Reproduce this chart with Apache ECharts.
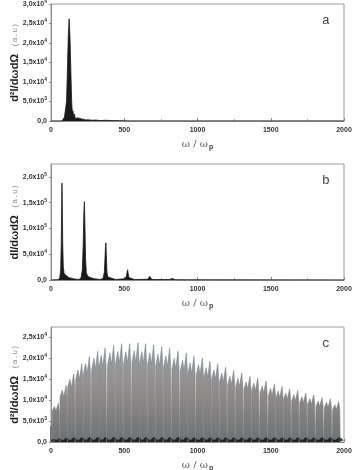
<!DOCTYPE html>
<html>
<head>
<meta charset="utf-8">
<script src="https://cdn.jsdelivr.net/npm/echarts@6/dist/echarts.min.js"></script>
<style>
  html, body { margin: 0; padding: 0; background: #fff; }
  #chart { width: 356px; height: 470px; }
</style>
</head>
<body>
<div id="chart"></div>
<script>
// panel a: single dominant harmonic
const aX = [0, 75, 85, 92, 97, 101, 106, 112, 118, 124, 130, 136, 141, 146, 150, 155, 160, 165, 171, 177, 185, 193, 202, 212, 225, 240, 258, 280, 305, 340, 368, 378, 390, 420, 470, 550, 2000]
const aY = [0, 0, 400, 1000, 500, 1200, 5000, 13000, 22000, 26200, 21000, 12000, 5000, 2000, 2600, 1000, 1800, 700, 1200, 500, 800, 400, 600, 300, 400, 250, 300, 200, 250, 100, 200, 500, 150, 100, 80, 0, 0]

// panel b: harmonic series
const bX = [0, 50, 60, 66, 70, 73, 75, 77, 80, 84, 90, 100, 120, 150, 190, 205, 214, 220, 224, 228, 232, 236, 241, 250, 265, 295, 335, 355, 364, 369, 372, 375, 378, 382, 388, 400, 440, 505, 515, 520, 523, 526, 531, 540, 570, 660, 670, 674, 676, 679, 685, 700, 810, 818, 822, 824, 827, 833, 850, 2000]
const bY = [0, 500, 5000, 20000, 70000, 150000, 188000, 150000, 70000, 25000, 12000, 9000, 5000, 2500, 1000, 4000, 20000, 70000, 130000, 152000, 100000, 40000, 14000, 8000, 5000, 2500, 1000, 3000, 15000, 45000, 65000, 72000, 45000, 15000, 6000, 3500, 1000, 2500, 8000, 16000, 20000, 14000, 5000, 2500, 800, 1500, 4000, 7000, 8000, 5500, 2000, 800, 800, 2500, 4500, 5000, 3000, 1000, 300, 0]

// panel c: dense comb, each tooth = main spike, side spike, dip between
const cPeakX = [14, 52, 105, 157, 212, 264, 321, 371, 430, 484, 539, 596, 648, 703, 758, 812, 869, 926, 978, 1035, 1087, 1140, 1194, 1249, 1304, 1360, 1413, 1470, 1527, 1579, 1631, 1686, 1741, 1795, 1852, 1909, 1966]
const cPeakY = [4100, 9300, 13500, 16300, 18700, 20400, 21700, 22500, 23100, 23500, 23500, 23700, 23500, 23200, 22800, 22400, 21700, 21300, 20500, 20100, 19300, 18700, 17900, 17100, 16500, 15700, 15300, 14600, 13900, 13300, 12700, 12300, 11700, 11300, 10600, 10300, 9700]
const cSideY = [3700, 8500, 12400, 15000, 17200, 18800, 20000, 20700, 21300, 21600, 21600, 21800, 21600, 21300, 21000, 20600, 20000, 19600, 18900, 18500, 17800, 17200, 16500, 15700, 15200, 14400, 14100, 13400, 12800, 12200, 11700, 11300, 10800, 10400, 9800, 9500, 8900]
const cDipY = [3300, 7400, 10800, 13000, 15000, 16300, 17400, 18000, 18500, 18800, 18800, 19000, 18800, 18600, 18200, 17900, 17400, 17000, 16400, 16100, 15400, 15000, 14300, 13700, 13200, 12600, 12200, 11700, 11100, 10600, 10200, 9800, 9400, 9000, 8500, 8200, 7800]
const cFloorY = [600, 800, 900, 1000, 1000, 1100, 1100, 1100, 1100, 1100, 1100, 1100, 1100, 1100, 1100, 1100, 1100, 1100, 1000, 1000, 1000, 1000, 1000, 1000, 1000, 1000, 1000, 1000, 1000, 1000, 1000, 1000, 1000, 1000, 1000, 1000, 1000]

const xTicks = [0, 500, 1000, 1500, 2000]
const panelLetters = ['a', 'b', 'c']
const yTitles = ['d²I/dωdΩ', 'dI/dωdΩ', 'd²I/dωdΩ']
const yMax = [30000, 225000, 27500]
const yStep = [5000, 50000, 5000]
const yShowMax = [true, false, false]

const grids = [
  { left: 51, top: 4, width: 293, height: 117 },
  { left: 51, top: 164, width: 293, height: 116 },
  { left: 51, top: 327, width: 293, height: 115 },
]

function sci(v) {
  if (v === 0) return '{m|0,0}'
  const e = Math.floor(Math.log10(v) + 1e-9)
  const m = (v / Math.pow(10, e)).toFixed(1).replace('.', ',')
  return '{m|' + m + 'x10}{e|' + e + '}'
}

const toothData = []
cPeakX.forEach((p, i) => {
  toothData.push(
    [p - 45, 0], [p - 43, cDipY[i]], [p - 28, cSideY[i]], [p - 18, cDipY[i]],
    [p - 2, cPeakY[i]], [p + 5, cDipY[i]], [p + 8, 0]
  )
})
const floorData = [[0, 300]]
cPeakX.forEach((p, i) => {
  floorData.push([p, cFloorY[i]], [p + 27, 400])
})

const chart = echarts.init(document.getElementById('chart'), null, { renderer: 'canvas' })

const xAxes = grids.map((g, i) => ({
  type: 'value',
  gridIndex: i,
  min: 0,
  max: 2000,
  interval: 500,
  name: '{w|ω / ω}{s|p}',
  nameLocation: 'middle',
  nameGap: 17,
  nameMoveOverlap: false,
  nameTextStyle: {
    rich: {
      w: { fontFamily: 'DejaVu Serif', fontSize: 10, color: '#555' },
      s: { fontFamily: 'Liberation Sans', fontSize: 7, fontWeight: 'bold', color: '#444', padding: [6, 0, 0, 1] },
    },
  },
  axisLine: { show: true, lineStyle: { color: '#8c8c8c', width: 1 } },
  axisTick: { show: true, inside: true, length: 3, lineStyle: { color: '#8c8c8c' } },
  minorTick: { show: true, splitNumber: 2, length: 2, lineStyle: { color: '#aaa' } },
  axisLabel: {
    margin: 6,
    fontSize: 7,
    fontWeight: 'bold',
    fontFamily: 'Liberation Sans',
    color: '#333',
    formatter: (v) => (xTicks.includes(v) ? String(v) : ''),
  },
  splitLine: { show: false },
}))

const yAxes = grids.map((g, i) => ({
  type: 'value',
  gridIndex: i,
  min: 0,
  max: yMax[i],
  interval: yStep[i],
  name: '{t|' + yTitles[i] + '}  {u|(a.u)}',
  nameLocation: 'middle',
  nameRotate: 90,
  nameGap: 30,
  nameMoveOverlap: false,
  nameTextStyle: {
    rich: {
      t: { fontFamily: 'Liberation Sans', fontSize: 11, fontWeight: 'bold', color: '#1e1e1e' },
      u: { fontFamily: 'Liberation Mono', fontSize: 8, color: '#8a8a8a' },
    },
  },
  axisLine: { show: true, lineStyle: { color: '#8c8c8c', width: 1 } },
  axisTick: { show: true, length: 2, lineStyle: { color: '#8c8c8c' } },
  axisLabel: {
    margin: 4,
    showMaxLabel: yShowMax[i],
    formatter: sci,
    rich: {
      m: { fontFamily: 'Liberation Sans', fontSize: 7, fontWeight: 'bold', color: '#333' },
      e: { fontFamily: 'Liberation Sans', fontSize: 5, fontWeight: 'bold', color: '#333', padding: [0, 0, 5, 0] },
    },
  },
  splitLine: { show: false },
}))

chart.setOption({
  animation: false,
  grid: grids.map((g) => ({
    ...g,
    containLabel: false,
    outerBoundsMode: 'none',
    show: true,
    borderColor: '#9a9a9a',
    borderWidth: 1,
    backgroundColor: '#fff',
  })),
  xAxis: xAxes,
  yAxis: yAxes,
  graphic: panelLetters.map((t, i) => ({
    type: 'text',
    left: 322,
    top: grids[i].top + 10,
    style: { text: t, fontFamily: 'Liberation Mono', fontSize: 13, fill: '#444' },
  })),
  series: [
    {
      type: 'line',
      xAxisIndex: 0,
      yAxisIndex: 0,
      showSymbol: false,
      data: aX.map((x, i) => [x, aY[i]]),
      lineStyle: { color: '#1a1a1a', width: 0.8 },
      areaStyle: { color: '#1a1a1a', opacity: 1 },
    },
    {
      type: 'line',
      xAxisIndex: 1,
      yAxisIndex: 1,
      showSymbol: false,
      data: bX.map((x, i) => [x, bY[i]]),
      lineStyle: { color: '#1a1a1a', width: 0.8 },
      areaStyle: { color: '#1a1a1a', opacity: 1 },
    },
    {
      type: 'line',
      xAxisIndex: 2,
      yAxisIndex: 2,
      showSymbol: false,
      clip: true,
      data: toothData,
      lineStyle: { color: '#7d8183', width: 0.6 },
      areaStyle: {
        opacity: 1,
        color: new echarts.graphic.LinearGradient(0, 0, 0, 1, [
          { offset: 0, color: '#9ea3a5' },
          { offset: 0.5, color: '#8f8b8b' },
          { offset: 1, color: '#6f7172' },
        ]),
      },
    },
    {
      type: 'line',
      xAxisIndex: 2,
      yAxisIndex: 2,
      showSymbol: false,
      clip: true,
      smooth: true,
      data: floorData,
      lineStyle: { color: '#222', width: 0.6 },
      areaStyle: { color: '#222', opacity: 1 },
    },
  ],
})
</script>
</body>
</html>
